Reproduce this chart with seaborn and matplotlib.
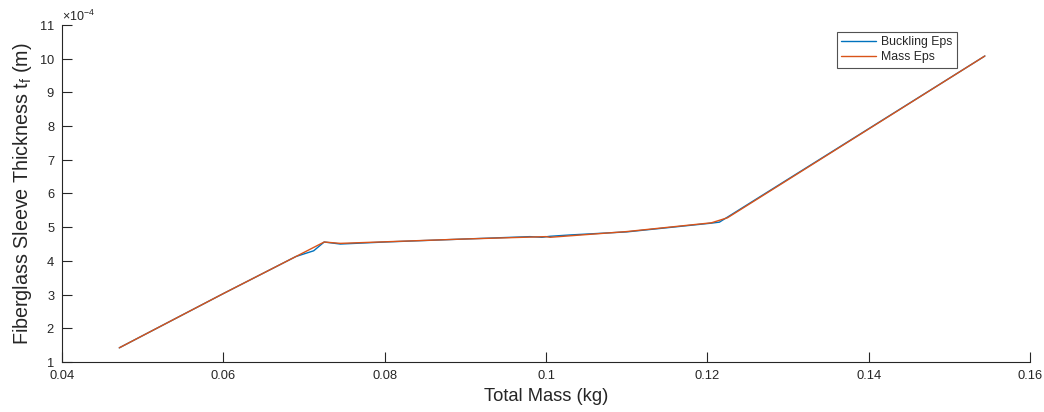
import matplotlib
matplotlib.use("Agg")
import matplotlib.pyplot as plt
import seaborn as sns
import pandas as pd
from matplotlib.ticker import ScalarFormatter

# Sweep results: total mass (kg) vs fiberglass sleeve thickness (m)
buckling_mass = [0.0471, 0.0600, 0.0690, 0.0712, 0.0725, 0.0745, 0.0800, 0.0900,
                 0.0980, 0.0995, 0.1005, 0.1030, 0.1100, 0.1205, 0.1215, 0.1225, 0.1544]
buckling_tf = [1.42e-4, 3.03e-4, 4.13e-4, 4.30e-4, 4.56e-4, 4.50e-4, 4.56e-4, 4.65e-4,
               4.72e-4, 4.70e-4, 4.73e-4, 4.77e-4, 4.86e-4, 5.12e-4, 5.15e-4, 5.30e-4, 10.08e-4]

mass_mass = [0.0471, 0.0600, 0.0690, 0.0725, 0.0745, 0.0900, 0.1000, 0.1005,
             0.1100, 0.1205, 0.1225, 0.1544]
mass_tf = [1.42e-4, 3.03e-4, 4.13e-4, 4.56e-4, 4.52e-4, 4.65e-4, 4.72e-4, 4.70e-4,
           4.87e-4, 5.13e-4, 5.28e-4, 10.08e-4]

x_ticks = [0.04, 0.06, 0.08, 0.10, 0.12, 0.14, 0.16]
x_tick_labels = ["0.04", "0.06", "0.08", "0.1", "0.12", "0.14", "0.16"]
y_ticks = [i * 1e-4 for i in range(1, 12)]

series_names = ["Buckling Eps", "Mass Eps"]
colors = ["#0072BD", "#D95319"]

df = pd.concat([
    pd.DataFrame({"mass": buckling_mass, "tf": buckling_tf, "series": series_names[0]}),
    pd.DataFrame({"mass": mass_mass, "tf": mass_tf, "series": series_names[1]}),
], ignore_index=True)

sns.set_style("white")
plt.rcParams["font.family"] = ["Liberation Sans", "DejaVu Sans"]
plt.rcParams["mathtext.fontset"] = "custom"
plt.rcParams["mathtext.rm"] = "Liberation Sans"
plt.rcParams["mathtext.it"] = "Liberation Sans:italic"
plt.rcParams["axes.unicode_minus"] = False

fig = plt.figure(figsize=(10.44, 4.12), dpi=100)
ax = fig.add_axes([0.0594, 0.1214, 0.9272, 0.8179])

sns.lineplot(data=df, x="mass", y="tf", hue="series", hue_order=series_names,
             palette=colors, sort=False, estimator=None, units="series",
             linewidth=1.0, ax=ax)

ax.set_xlim(0.04, 0.16)
ax.set_ylim(1e-4, 11e-4)
ax.set_xticks(x_ticks)
ax.set_xticklabels(x_tick_labels)
ax.set_yticks(y_ticks)

# fixed 10^-4 multiplier on the thickness axis
fmt = ScalarFormatter(useMathText=True)
fmt.set_powerlimits((-4, -4))
ax.yaxis.set_major_formatter(fmt)
ax.yaxis.get_offset_text().set_fontsize(9)
ax.yaxis.get_offset_text().set_color("#262626")

for side in ["top", "right"]:
    ax.spines[side].set_visible(False)
for side in ["left", "bottom"]:
    ax.spines[side].set_color("#262626")
    ax.spines[side].set_linewidth(0.8)

ax.tick_params(axis="both", direction="in", length=7, width=0.8,
               colors="#262626", labelsize=9.3, labelcolor="#262626",
               left=True, bottom=True)
ax.tick_params(axis="x", pad=6)
ax.tick_params(axis="y", pad=5)

ax.set_xlabel("Total Mass (kg)", fontsize=13.2, color="#262626", labelpad=4)
ax.set_ylabel(r"Fiberglass Sleeve Thickness t$_\mathregular{f}$ (m)",
              fontsize=14.2, color="#262626", labelpad=4)

leg = ax.legend(loc="upper right", bbox_to_anchor=(0.9246, 0.979), fontsize=8.8,
                frameon=True, fancybox=False, handlelength=2.9, borderpad=0.35,
                labelspacing=0.25, handletextpad=0.4, borderaxespad=0)
leg.get_frame().set_edgecolor("#262626")
leg.get_frame().set_linewidth(0.8)
leg.set_title(None)

fig.savefig("out.png", dpi=100)
